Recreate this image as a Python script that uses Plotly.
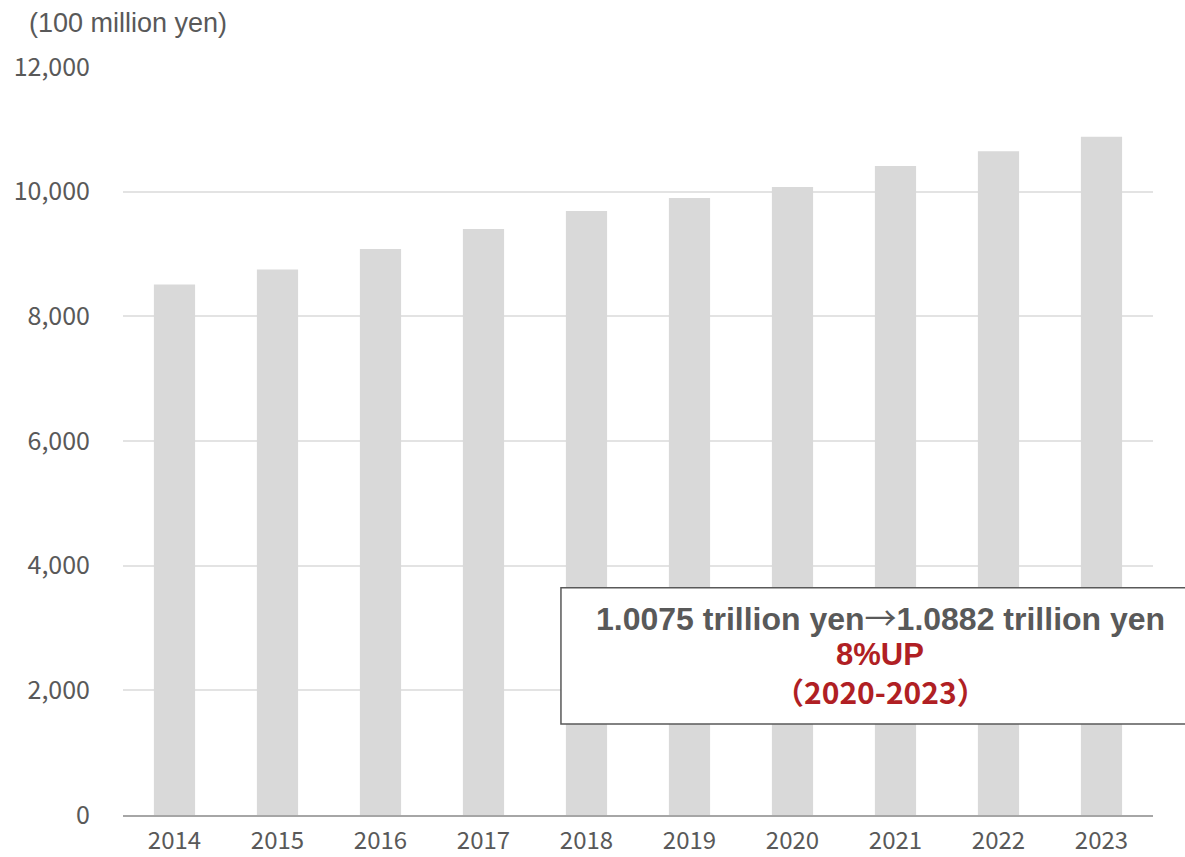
import plotly.graph_objects as go

# Annual market size, in units of 100 million yen
years = ["2014", "2015", "2016", "2017", "2018", "2019", "2020", "2021", "2022", "2023"]
values = [8510, 8750, 9080, 9400, 9690, 9900, 10075, 10410, 10650, 10882]

y_ticks = [0, 2000, 4000, 6000, 8000, 10000, 12000]
y_tick_text = ["0", "2,000", "4,000", "6,000", "8,000", "10,000", "12,000"]

unit_label = "(100 million yen)"
summary_from = "1.0075 trillion yen"
summary_to = "1.0882 trillion yen"
growth_line = "8%UP"
period_line = "（2020-2023）"

label_font = "Noto Sans CJK JP, Noto Sans, sans-serif"
box_font = "Liberation Sans, Arial, sans-serif"
text_grey = "#595959"
accent_red = "#b01f24"
tick_size = 25

fig = go.Figure(
    go.Bar(
        x=years,
        y=values,
        marker=dict(color="#d9d9d9", line=dict(width=0)),
        width=0.4,
        hoverinfo="x+y",
    )
)

fig.update_layout(
    width=1185,
    height=857,
    margin=dict(l=123, r=32, t=67, b=42),
    paper_bgcolor="white",
    plot_bgcolor="white",
    showlegend=False,
    font=dict(family=label_font, color=text_grey, size=tick_size),
)

fig.update_xaxes(
    type="category",
    automargin=False,
    showgrid=False,
    showline=True,
    linecolor="#a6a6a6",
    linewidth=2,
    ticks="",
    tickfont=dict(family=label_font, size=24, color=text_grey),
    ticklabelstandoff=3,
)

fig.update_yaxes(
    range=[0, 12000],
    automargin=False,
    tickvals=y_ticks,
    ticktext=y_tick_text,
    showgrid=True,
    gridcolor="#e3e3e3",
    gridwidth=1.5,
    zeroline=False,
    showline=False,
    ticks="",
    tickfont=dict(family=label_font, size=tick_size, color=text_grey),
    ticklabelstandoff=32,
)

# Summary box over the later bars
fig.add_shape(
    type="rect",
    xref="paper",
    yref="paper",
    x0=0.4252,
    x1=1.04,
    y0=0.1217,
    y1=0.3039,
    fillcolor="white",
    line=dict(color=text_grey, width=1.5),
    layer="above",
)

arrow = "<span style='font-family:Noto Sans CJK JP;font-weight:normal'>→</span>"
fig.add_annotation(
    xref="paper", yref="paper", x=0.735, y=0.266,
    text="<b>" + summary_from + "</b>" + arrow + "<b>" + summary_to + "</b>",
    showarrow=False,
    font=dict(family=box_font, size=32, color=text_grey),
    xanchor="center", yanchor="middle",
)
fig.add_annotation(
    xref="paper", yref="paper", x=0.735, y=0.215,
    text="<b>" + growth_line + "</b>",
    showarrow=False,
    font=dict(family=box_font, size=31, color=accent_red),
    xanchor="center", yanchor="middle",
)
fig.add_annotation(
    xref="paper", yref="paper", x=0.735, y=0.166,
    text="<b>" + period_line + "</b>",
    showarrow=False,
    font=dict(family="Noto Sans CJK JP, " + box_font, size=30, color=accent_red),
    xanchor="center", yanchor="middle",
)

# Unit caption above the value axis
fig.add_annotation(
    xref="paper", yref="paper", x=-0.0935, y=1.059,
    text=unit_label,
    showarrow=False,
    font=dict(family=box_font, size=27, color=text_grey),
    xanchor="left", yanchor="middle",
)

fig.write_html("out.html")
